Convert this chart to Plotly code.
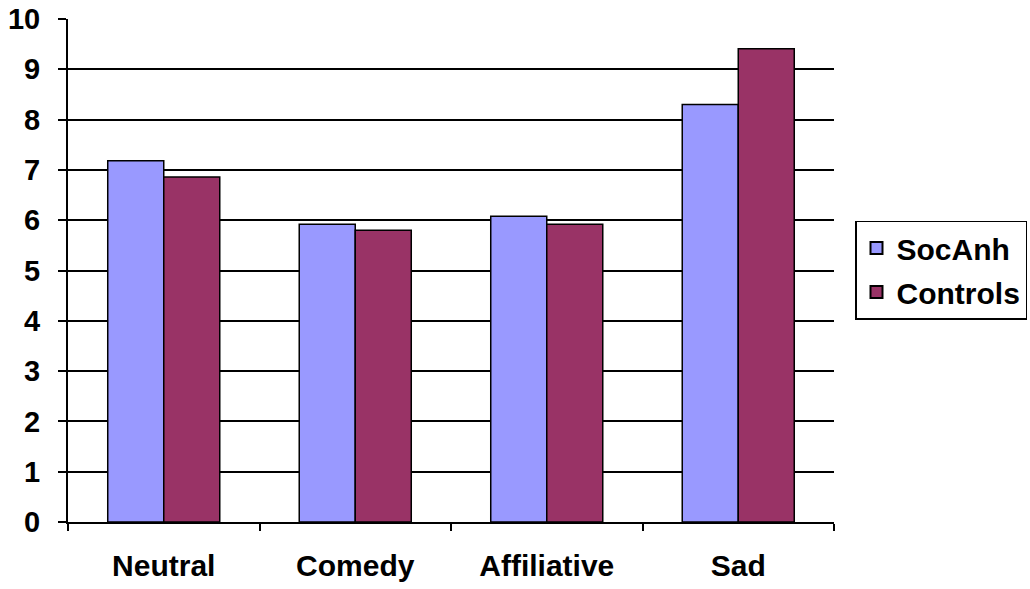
import plotly.graph_objects as go

categories = ["Neutral", "Comedy", "Affiliative", "Sad"]
socanh = [7.18, 5.92, 6.08, 8.30]
controls = [6.86, 5.80, 5.92, 9.41]
y_ticks = [0, 1, 2, 3, 4, 5, 6, 7, 8, 9, 10]

FONT = "Arial, Liberation Sans, sans-serif"

fig = go.Figure()
fig.add_trace(go.Bar(name="SocAnh", x=categories, y=socanh, legendgroup="a",
                     marker=dict(color="#9999FF", line=dict(color="black", width=1.5))))
fig.add_trace(go.Bar(name="Controls", x=categories, y=controls, legendgroup="b",
                     marker=dict(color="#993366", line=dict(color="black", width=1.5))))

fig.update_layout(
    width=1030, height=589,
    margin=dict(l=68, r=196, t=19, b=67, autoexpand=False),
    paper_bgcolor="white", plot_bgcolor="white",
    barmode="group", bargap=0.415, bargroupgap=0,
    font=dict(family=FONT, size=30, color="black", weight="bold"),
    legend=dict(xref="container", yref="container", x=855 / 1030, xanchor="left",
                y=1 - 270 / 589, yanchor="middle",
                bordercolor="black", borderwidth=1.5,
                font=dict(family=FONT, size=30, color="black", weight="bold"),
                tracegroupgap=2, itemsizing="constant"),
    showlegend=True,
)
fig.update_xaxes(showline=True, linecolor="black", linewidth=2, automargin=False,
                 ticks="outside", tickson="boundaries", ticklen=7, tickwidth=2,
                 tickcolor="black", showgrid=False, ticklabelstandoff=16,
                 tickfont=dict(family=FONT, size=30, color="black", weight="bold"))
fig.update_yaxes(range=[0, 10], tickvals=y_ticks, showline=True, linecolor="black", linewidth=2,
                 automargin=False,
                 ticks="outside", ticklen=8, tickwidth=2, tickcolor="black",
                 showgrid=True, gridcolor="black", gridwidth=2, zeroline=False,
                 ticklabelstandoff=12,
                 tickfont=dict(family=FONT, size=29, color="black", weight="bold"))

fig.write_html("out.html")
